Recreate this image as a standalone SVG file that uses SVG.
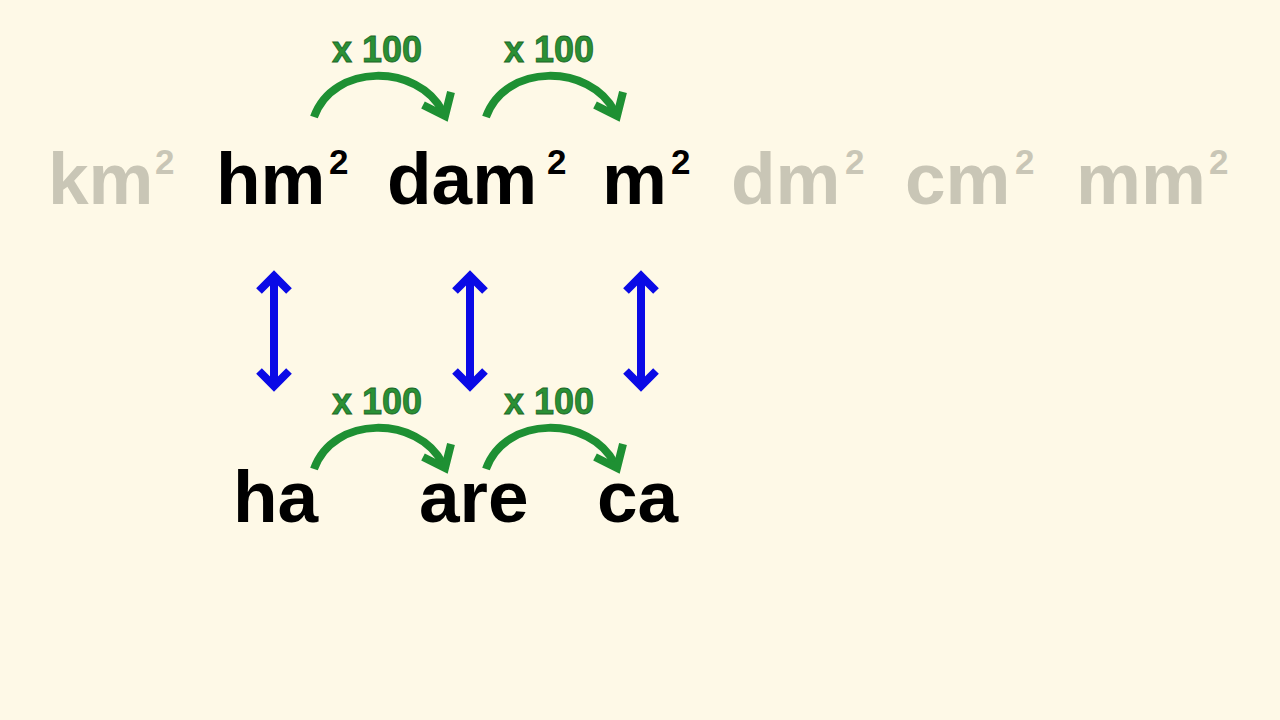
<svg xmlns="http://www.w3.org/2000/svg" width="1280" height="720" viewBox="0 0 1280 720">
<style>
.u{font-family:"Liberation Sans",Arial,sans-serif;font-weight:bold;font-size:73px;fill:#000}
.g{fill:#C9C6B6}
.s{font-family:"Liberation Sans",Arial,sans-serif;font-weight:bold;font-size:35px}
.lbl{font-family:"Liberation Sans",Arial,sans-serif;font-weight:bold;font-size:36px;fill:#2A9035;stroke:#1B6526;stroke-width:0.8}
.arc{fill:none;stroke:#1E9033;stroke-width:8;stroke-linejoin:miter;stroke-miterlimit:10}
.dbl{fill:none;stroke:#0A0AE6;stroke-width:8;stroke-linejoin:miter;stroke-miterlimit:10}
</style>
<defs>
<g id="curve">
<path class="arc" d="M314 117 C333 63, 418 63, 443 112"/>
<path class="arc" d="M423 105 L445 116 L451 92"/>
</g>
<g id="updown">
<path class="dbl" d="M0 277 L0 385"/>
<path class="dbl" d="M-15 291 L0 276 L15 291"/>
<path class="dbl" d="M-15 371 L0 386 L15 371"/>
</g>
</defs>
<rect width="1280" height="720" fill="#FEF9E7"/>
<g id="node-km2"><text class="u g" x="48" y="204">km</text><text class="s g" x="155" y="174">2</text></g>
<g id="node-hm2"><text class="u" x="216" y="204">hm</text><text class="s" x="329" y="174">2</text></g>
<g id="node-dam2"><text class="u" x="387" y="204">dam</text><text class="s" x="547" y="174">2</text></g>
<g id="node-m2"><text class="u" x="602" y="204">m</text><text class="s" x="671" y="174">2</text></g>
<g id="node-dm2"><text class="u g" x="731" y="204">dm</text><text class="s g" x="845" y="174">2</text></g>
<g id="node-cm2"><text class="u g" x="905" y="204">cm</text><text class="s g" x="1015" y="174">2</text></g>
<g id="node-mm2"><text class="u g" x="1076" y="204">mm</text><text class="s g" x="1209" y="174">2</text></g>
<g id="node-ha"><text class="u" x="233" y="522">ha</text></g>
<g id="node-are"><text class="u" x="419" y="522">are</text></g>
<g id="node-ca"><text class="u" x="597" y="522">ca</text></g>
<g id="connectors">
<use href="#curve"/>
<use href="#curve" transform="translate(172,0)"/>
<use href="#curve" transform="translate(0,352)"/>
<use href="#curve" transform="translate(172,352)"/>
<use href="#updown" transform="translate(274,0)"/>
<use href="#updown" transform="translate(470,0)"/>
<use href="#updown" transform="translate(641,0)"/>
<text class="lbl" x="332" y="62">x 100</text>
<text class="lbl" x="504" y="62">x 100</text>
<text class="lbl" x="332" y="414">x 100</text>
<text class="lbl" x="504" y="414">x 100</text>
</g>
</svg>
